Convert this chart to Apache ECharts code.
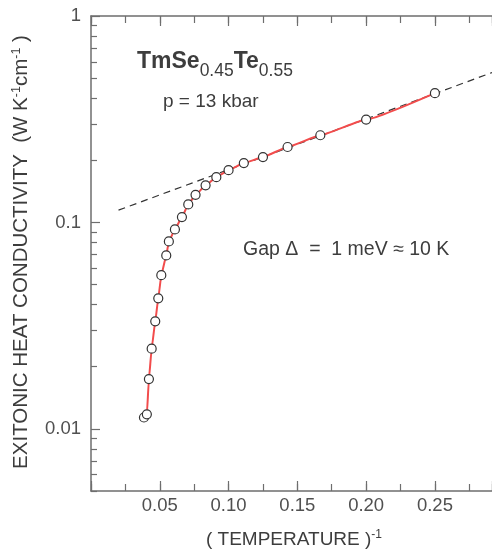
<!DOCTYPE html>
<html><head><meta charset="utf-8">
<script src="https://cdn.jsdelivr.net/npm/echarts@6/dist/echarts.min.js"></script>
<style>html,body{margin:0;padding:0;background:#fff}#c{width:492px;height:550px}</style>
</head><body><div id="c"></div>
<script>
// ---- data ----
const invTemperature = [0.0385,0.0406,0.0421,0.0441,0.0467,0.0489,0.0511,0.0547,0.0566,0.0610,0.0661,0.0707,0.0760,0.0833,0.0911,0.1000,0.1111,0.1250,0.1429,0.1667,0.2000,0.2500];
const conductivity   = [0.01135,0.01176,0.01743,0.02445,0.0332,0.0429,0.0555,0.0692,0.0809,0.0925,0.1061,0.1223,0.1360,0.1512,0.1657,0.1792,0.1938,0.2073,0.2320,0.2644,0.3151,0.4229];
const fitX = [0.02, 0.2915];
const fitY = [0.1147, 0.532];
const xTickLabels = [0.05, 0.10, 0.15, 0.20, 0.25];
const yTickLabels = [0.01, 0.1, 1];
const yMinorTicks = [0.005,0.006,0.007,0.008,0.009,0.02,0.03,0.04,0.05,0.06,0.07,0.08,0.09,0.2,0.3,0.4,0.5,0.6,0.7,0.8,0.9];
const xRange = [0, 0.2915];
const yRange = [0.005, 1];

const FONT = '"Liberation Sans", Arial, sans-serif';
const AX = '#6e6e6e';
const LBL = '#505050';
const TXT = '#3d3d3d';
const lg = v => Math.log10(v);

const chart = echarts.init(document.getElementById('c'), null, {renderer: 'canvas'});

function xAx(pos, tickLen, interval, showLine, labels) {
  return {
    type: 'value', position: pos, min: xRange[0], max: xRange[1], interval: interval,
    axisLine: {show: showLine, onZero: false, lineStyle: {color: AX, width: 1.5}},
    axisTick: {show: true, inside: true, length: tickLen, lineStyle: {color: AX, width: 1.2}},
    axisLabel: labels ? {show: true, customValues: xTickLabels, formatter: v => v.toFixed(2),
      fontSize: 18.5, color: LBL, fontFamily: FONT, margin: 5} : {show: false},
    splitLine: {show: false}
  };
}
function yAx(tickVals, tickLen, showLine, labels) {
  return {
    type: 'value', position: 'left', min: lg(yRange[0]), max: lg(yRange[1]),
    axisLine: {show: showLine, onZero: false, lineStyle: {color: AX, width: 1.5}},
    axisTick: {show: true, inside: true, length: tickLen, customValues: tickVals.map(lg), lineStyle: {color: AX, width: 1.2}},
    axisLabel: labels ? {show: true, customValues: yTickLabels.map(lg),
      formatter: v => String(+Math.pow(10, v).toPrecision(3)),
      fontSize: 18.5, color: LBL, fontFamily: FONT, margin: 10} : {show: false},
    splitLine: {show: false}
  };
}

const option = {
  animation: false,
  backgroundColor: '#fff',
  grid: {left: 91, right: 0, top: 16, bottom: 59, containLabel: false, outerBoundsMode: 'none'},
  xAxis: [
    xAx('bottom', 7, 0.025, true, true),
    xAx('bottom', 10, 0.05, false, false),
    xAx('top', 7, 0.025, true, false),
    xAx('top', 10, 0.05, false, false)
  ],
  yAxis: [
    yAx(yTickLabels, 9, true, true),
    yAx(yMinorTicks, 6, false, false)
  ],
  series: [
    {
      type: 'line', xAxisIndex: 0, yAxisIndex: 0, silent: true, z: 1,
      data: fitX.map((x, i) => [x, lg(fitY[i])]),
      symbol: 'none',
      lineStyle: {color: '#333', width: 1.2, type: [7, 5]}
    },
    {
      type: 'line', xAxisIndex: 0, yAxisIndex: 0, z: 2,
      data: invTemperature.map((x, i) => [x, lg(conductivity[i])]),
      smooth: 0.12, smoothMonotone: 'x',
      symbol: 'circle', symbolSize: 9,
      itemStyle: {color: '#fff', borderColor: '#333', borderWidth: 1.2},
      lineStyle: {color: '#f24c4c', width: 2}
    }
  ],
  graphic: [
    {
      type: 'text', x: 137, y: 50, z: 10,
      style: {
        text: '{b|TmSe}{s|0.45}{b|Te}{s|0.55}', verticalAlign: 'top', align: 'left',
        rich: {
          b: {fontSize: 23, fontWeight: 'bold', fontFamily: FONT, fill: TXT, verticalAlign: 'top', lineHeight: 23},
          s: {fontSize: 17.5, fontFamily: FONT, fill: TXT, verticalAlign: 'bottom', lineHeight: 30}
        }
      }
    },
    {
      type: 'text', x: 163, y: 102, z: 10,
      style: {text: 'p = 13 kbar', fontSize: 19, fontFamily: FONT, fill: TXT, verticalAlign: 'middle', align: 'left'}
    },
    {
      type: 'text', x: 243, y: 250, z: 10,
      style: {text: 'Gap \u0394  =  1 meV \u2248 10 K', fontSize: 19.5, fontFamily: FONT, fill: TXT, verticalAlign: 'middle', align: 'left'}
    },
    {
      type: 'text', x: 21, y: 252, rotation: Math.PI / 2, z: 10,
      style: {
        text: '{m|EXITONIC HEAT CONDUCTIVITY  (W K}{p|-1}{m|cm}{p|-1}{m| )}', align: 'center', verticalAlign: 'middle',
        rich: {
          m: {fontSize: 20.5, fontFamily: FONT, fill: TXT, verticalAlign: 'bottom', lineHeight: 22},
          p: {fontSize: 12.5, fontFamily: FONT, fill: TXT, verticalAlign: 'top'}
        }
      }
    },
    {
      type: 'text', x: 294, y: 539, z: 10,
      style: {
        text: '{m|( TEMPERATURE )}{p|-1}', align: 'center', verticalAlign: 'middle',
        rich: {
          m: {fontSize: 19, fontFamily: FONT, fill: TXT, verticalAlign: 'bottom', lineHeight: 21},
          p: {fontSize: 12, fontFamily: FONT, fill: TXT, verticalAlign: 'top'}
        }
      }
    }
  ]
};
chart.setOption(option);
</script>
</body></html>
